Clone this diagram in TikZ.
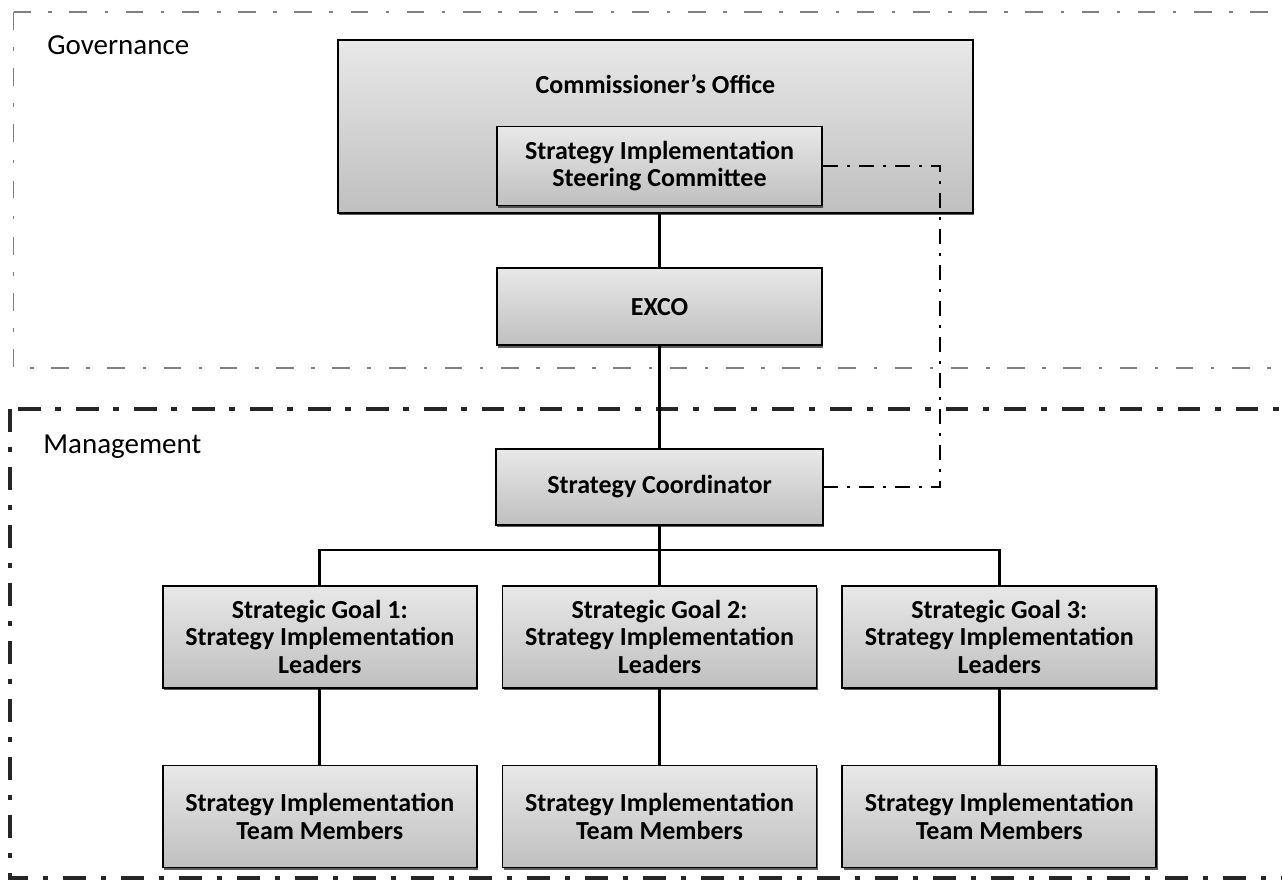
\documentclass[tikz,border=0pt]{standalone}
\usepackage{fontspec}
\setmainfont{Carlito}
\usepackage{tikz}
\usetikzlibrary{positioning}
\usetikzlibrary{shadows}
\tikzstyle{orgbox} = [draw=black, line width=1pt, top color=gray!18, bottom color=gray!50, drop shadow={shadow xshift=0.8pt, shadow yshift=-1.4pt, fill=black!80, opacity=0.8}, align=center, font=\fontsize{14.8}{15.5}\selectfont\bfseries, inner sep=2pt]
\tikzstyle{orgline} = [line width=1.5pt]
\tikzstyle{dotlink} = [line width=1.2pt, dash pattern=on 8.5pt off 5pt on 2pt off 5pt]
\tikzstyle{govframe} = [line width=1pt, black!50, dash pattern=on 10pt off 10pt on 2pt off 10pt]
\tikzstyle{mgmtframe} = [line width=2pt, black!85, dash pattern=on 13pt off 8.5pt on 3pt off 8.5pt]
\tikzstyle{arealabel} = [font=\fontsize{16.5}{18}\selectfont, anchor=base west, inner sep=0pt]

\begin{document}
\begin{tikzpicture}
	%Bounding box
	\useasboundingbox (0,0) rectangle (25.64,-17.7);
	\clip (0,0) rectangle (25.64,-17.7);
	
	%Frames
	\draw[govframe] (0.27,-0.24) rectangle (26.5,-7.36);
	\draw[mgmtframe] (0.2,-8.18) rectangle (26.5,-17.56);
	\node[arealabel] (govLabel) at (0.94,-1.1) {Governance};
	\node[arealabel] (mgmtLabel) at (0.86,-9.06) {Management};
	
	%Nodes
	\node[orgbox, minimum width=12.7cm, minimum height=3.46cm] (commOffice) at (13.11,-2.53) {};
	\node[font=\fontsize{14.8}{15.5}\selectfont\bfseries] (commLabel) at (13.11,-1.68) {Commissioner’s Office};
	\node[orgbox, minimum width=6.5cm, minimum height=1.58cm] (steerCom) at (13.19,-3.32) {Strategy Implementation\\Steering Committee};
	\node[orgbox, minimum width=6.5cm, minimum height=1.54cm, below=1.22cm of steerCom] (exco) {EXCO};
	\node[orgbox, minimum width=6.54cm, minimum height=1.52cm, below=2.04cm of exco] (stratCoord) {Strategy Coordinator};
	
	\node[orgbox, minimum width=6.28cm, minimum height=2.04cm, below=1.18cm of stratCoord] (goalTwo) {Strategic Goal 2:\\Strategy Implementation\\Leaders};
	\node[orgbox, minimum width=6.28cm, minimum height=2.04cm, left=0.48cm of goalTwo] (goalOne) {Strategic Goal 1:\\Strategy Implementation\\Leaders};
	\node[orgbox, minimum width=6.28cm, minimum height=2.04cm, right=0.48cm of goalTwo] (goalThree) {Strategic Goal 3:\\Strategy Implementation\\Leaders};
	
	\node[orgbox, minimum width=6.28cm, minimum height=2.04cm, below=1.52cm of goalOne] (teamOne) {Strategy Implementation\\Team Members};
	\node[orgbox, minimum width=6.28cm, minimum height=2.04cm, below=1.52cm of goalTwo] (teamTwo) {Strategy Implementation\\Team Members};
	\node[orgbox, minimum width=6.28cm, minimum height=2.04cm, below=1.52cm of goalThree] (teamThree) {Strategy Implementation\\Team Members};
	
	%Coordinates
	\coordinate [below=0.48cm of stratCoord] (busPoint);
	\coordinate (linkCorner) at (18.8,-3.32);
	
	%Lines
	\draw[orgline] (commOffice.south -| exco.north) -- (exco.north);
	\draw[orgline] (exco) -- (stratCoord);
	\draw[orgline] (stratCoord) -- (goalTwo);
	\draw[orgline] (goalOne.north) |- (busPoint) -| (goalThree.north);
	\draw[orgline] (goalOne) -- (teamOne);
	\draw[orgline] (goalTwo) -- (teamTwo);
	\draw[orgline] (goalThree) -- (teamThree);
	
	%Dash-dot link
	\draw[dotlink] (steerCom.east) -- (linkCorner) |- (stratCoord.east);
\end{tikzpicture}
\end{document}
